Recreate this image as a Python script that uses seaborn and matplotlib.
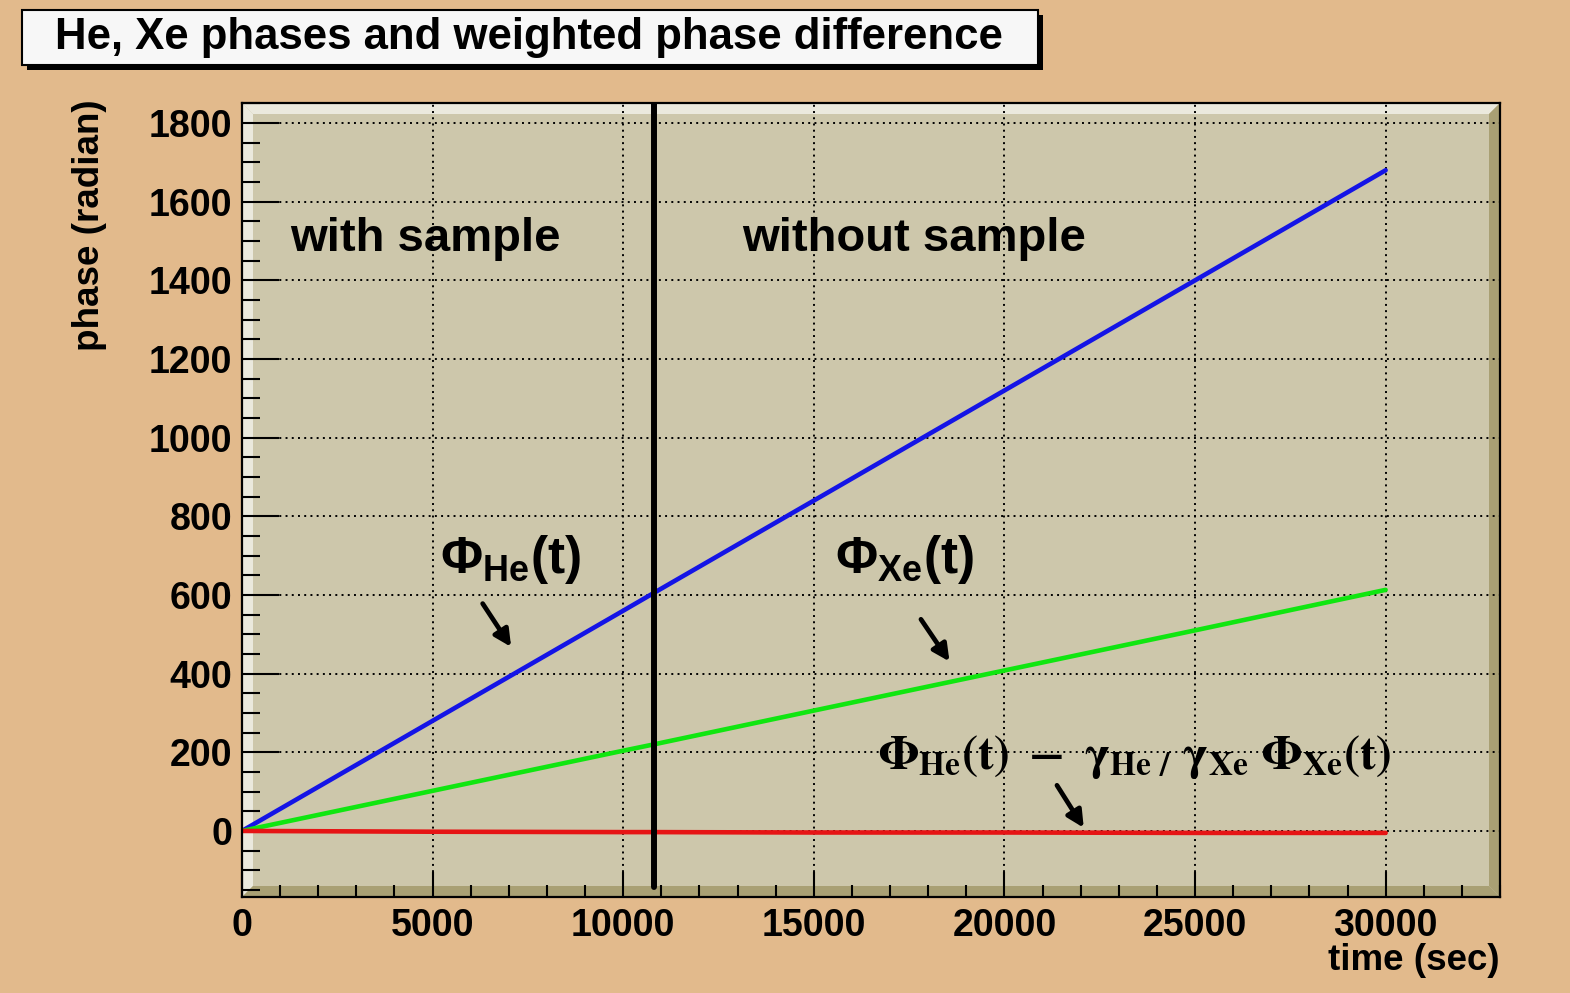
import numpy as np
import pandas as pd
import matplotlib
matplotlib.use("Agg")
import matplotlib.pyplot as plt
from matplotlib.patches import Polygon, Rectangle
import seaborn as sns

# ---------------- data ----------------
time_s = [0, 5000, 10000, 10800, 15000, 20000, 25000, 30000]
phase_he = [0, 280, 560, 605, 840, 1120, 1400, 1680]
phase_xe = [0, 102, 204, 220, 306, 408, 510, 613]
phase_diff = [0, -2, -3, -3, -4, -4, -5, -5]
series_names = ["He", "Xe", "diff"]
series_colors = ["#1414e6", "#10e610", "#e61414"]
t_switch = 10800

title = "He, Xe phases and weighted phase difference"
xlabel = "time (sec)"
ylabel = "phase (radian)"
xticks = [0, 5000, 10000, 15000, 20000, 25000, 30000]
yticks = [0, 200, 400, 600, 800, 1000, 1200, 1400, 1600, 1800]

df = pd.DataFrame({
    "time": time_s * 3,
    "phase": phase_he + phase_xe + phase_diff,
    "series": [series_names[0]] * len(time_s) + [series_names[1]] * len(time_s)
              + [series_names[2]] * len(time_s),
})

# ---------------- style ----------------
sns.set_style("ticks")
plt.rcParams["font.family"] = ["Liberation Sans", "DejaVu Sans"]
plt.rcParams["font.weight"] = "bold"
plt.rcParams["text.color"] = "black"
plt.rcParams["axes.labelcolor"] = "black"
plt.rcParams["xtick.color"] = "black"
plt.rcParams["ytick.color"] = "black"
plt.rcParams["mathtext.fontset"] = "custom"
plt.rcParams["mathtext.bf"] = "Liberation Sans:bold"
plt.rcParams["mathtext.rm"] = "Liberation Sans:bold"

BG = "#e2ba8c"
PLOT_BG = "#cdc7ab"
LIGHT = "#ebe9dd"
DARK = "#a9a074"

fig = plt.figure(figsize=(15.70, 9.93), dpi=100, facecolor=BG)
ax = fig.add_axes([242 / 1570, 1 - 897 / 993, (1500 - 242) / 1570, (897 - 103) / 993])
ax.set_facecolor(PLOT_BG)
ax.set_axisbelow(True)

# 3D bevel frame (ROOT TFrame look)
dx, dy = 11 / 1258, 11 / 794
bevels = [
    ([(0, 1), (1, 1), (1 - dx, 1 - dy), (dx, 1 - dy)], LIGHT),
    ([(0, 0), (0, 1), (dx, 1 - dy), (dx, dy)], LIGHT),
    ([(1, 1), (1, 0), (1 - dx, dy), (1 - dx, 1 - dy)], DARK),
    ([(0, 0), (1, 0), (1 - dx, dy), (dx, dy)], DARK),
]
for pts, c in bevels:
    ax.add_patch(Polygon(pts, closed=True, transform=ax.transAxes,
                         facecolor=c, edgecolor="none", zorder=0.3))

sns.lineplot(data=df, x="time", y="phase", hue="series", palette=series_colors,
             hue_order=series_names, linewidth=3.3, legend=False, ax=ax, zorder=3)

ax.axvline(t_switch, ymin=0.013, ymax=1.0, color="black", linewidth=4.3, zorder=4)

ax.set_xlim(0, 33000)
ax.set_ylim(-168, 1851)
ax.set_xticks(xticks)
ax.set_yticks(yticks)
ax.set_xticks(np.arange(0, 33001, 1000), minor=True)
ax.set_yticks(np.arange(-150, 1851, 50), minor=True)
ax.set_xticklabels([str(v) for v in xticks])
ax.set_yticklabels([str(v) for v in yticks])

ax.grid(True, which="major", color="black", linestyle=(0, (1, 2.2)), linewidth=1.4)
ax.tick_params(axis="x", which="major", direction="in", length=18, width=1.5,
               labelsize=27, pad=8, top=False)
ax.tick_params(axis="x", which="minor", direction="in", length=8.6, width=1.5, top=False)
ax.tick_params(axis="y", which="major", direction="in", length=26.6, width=1.5,
               labelsize=27, pad=7, right=False)
ax.tick_params(axis="y", which="minor", direction="in", length=13, width=1.5, right=False)
for lab in ax.get_xticklabels() + ax.get_yticklabels():
    lab.set_fontweight("bold")

for s in ax.spines.values():
    s.set_linewidth(1.6)
    s.set_color("black")
    s.set_zorder(5)

ax.set_xlabel(xlabel, fontsize=26.5, fontweight="bold", loc="right")
ax.set_ylabel(ylabel, fontsize=26.5, fontweight="bold", loc="top")
ax.xaxis.set_label_coords(1.0, -0.058)
ax.yaxis.set_label_coords(-0.107, 1.004)

# region labels
ax.text(1260, 1505, "with sample", fontsize=34, fontweight="bold", va="center", ha="left")
ax.text(13123, 1505, "without sample", fontsize=34, fontweight="bold", va="center", ha="left")

# curve labels
ax.text(5197, 689, r"$\mathbf{Φ_{He}(t)}$", fontsize=37, va="center", ha="left")
ax.text(15564, 689, r"$\mathbf{Φ_{Xe}(t)}$", fontsize=37, va="center", ha="left")
ax.text(16693, 188,
        r"$\mathbf{\Phi_{He}(t)\ -\ \gamma_{He\ /}\ \gamma_{Xe}\ \Phi_{Xe}(t)}$",
        fontsize=34.3, va="center", ha="left", math_fontfamily="stix")

arrow_kw = dict(arrowstyle="-|>,head_length=1.0,head_width=0.5", color="black", lw=3.4)
ax.annotate("", xy=(7100, 462), xytext=(6273, 584), arrowprops=arrow_kw)
ax.annotate("", xy=(18600, 425), xytext=(17769, 544), arrowprops=arrow_kw)
ax.annotate("", xy=(22120, 2), xytext=(21339, 122), arrowprops=arrow_kw)

# title box with shadow
W, H = 1570, 993
bx0, bx1, by0, by1 = 22, 1038, 10, 65
fig.patches.append(Rectangle(((bx0 + 5) / W, 1 - (by1 + 5) / H), (bx1 - bx0) / W, (by1 - by0) / H,
                             transform=fig.transFigure, facecolor="black", edgecolor="none", zorder=1))
fig.patches.append(Rectangle((bx0 / W, 1 - by1 / H), (bx1 - bx0) / W, (by1 - by0) / H,
                             transform=fig.transFigure, facecolor="#f7f7f7", edgecolor="black",
                             linewidth=1.5, zorder=2))
fig.text((bx0 + bx1) / 2 / W - 0.0005, 1 - 38 / H, title, fontsize=31.5, fontweight="bold",
         ha="center", va="center", zorder=3)

fig.savefig("out.png", dpi=100, facecolor=BG)
